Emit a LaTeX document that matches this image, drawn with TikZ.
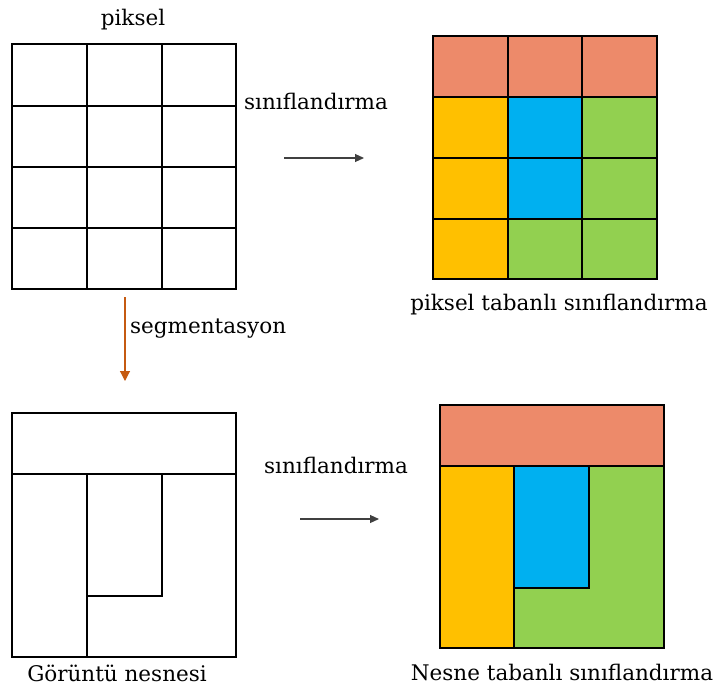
\documentclass[tikz,border=0pt]{standalone}
\usepackage{fontspec}
\setmainfont{DejaVu Serif}
\usetikzlibrary{arrows.meta}
\definecolor{cOrange}{RGB}{237,138,106}
\definecolor{cYellow}{RGB}{255,192,0}
\definecolor{cBlue}{RGB}{0,176,240}
\definecolor{cGreen}{RGB}{146,208,80}
\definecolor{cSeg}{RGB}{197,90,17}
\definecolor{cArr}{RGB}{64,64,64}
\tikzset{
  gridline/.style={line width=2pt, black},
  lbl/.style={font=\fontsize{21.5}{24}\selectfont, inner sep=0pt},
  flow/.style={cArr, line width=1.1pt, -{Triangle[length=9pt,width=8pt]}},
  segflow/.style={cSeg, line width=1.1pt, -{Triangle[length=10pt,width=10pt]}}
}
\begin{document}
\begin{tikzpicture}[x=1pt,y=-1pt]
\useasboundingbox (0,0) rectangle (715,686);
\fill[white] (0,0) rectangle (715,686);
% top-left grid
\draw[gridline] (12,44) rectangle (236,289);
\foreach \xx in {87,162} \draw[gridline] (\xx,44) -- (\xx,289);
\foreach \yy in {106,167,228} \draw[gridline] (12,\yy) -- (236,\yy);
% top-right classified grid
\fill[cOrange] (433,36) rectangle (657,97);
\fill[cYellow] (433,97) rectangle (508,279);
\fill[cBlue] (508,97) rectangle (582,219);
\fill[cGreen] (582,97) rectangle (657,219);
\fill[cGreen] (508,219) rectangle (657,279);
\draw[gridline] (433,36) rectangle (657,279);
\foreach \xx in {508,582} \draw[gridline] (\xx,36) -- (\xx,279);
\foreach \yy in {97,158,219} \draw[gridline] (433,\yy) -- (657,\yy);
% bottom-left segmented image
\draw[gridline] (12,413) rectangle (236,657);
\draw[gridline] (12,474) -- (236,474);
\draw[gridline] (87,474) -- (87,657);
\draw[gridline] (162,474) -- (162,596) -- (87,596);
% bottom-right object-based classification
\fill[cOrange] (440,405) rectangle (664,466);
\fill[cYellow] (440,466) rectangle (514,648);
\fill[cGreen] (514,466) rectangle (664,648);
\fill[cBlue] (514,466) rectangle (589,588);
\draw[gridline] (440,405) rectangle (664,648);
\draw[gridline] (440,466) -- (664,466);
\draw[gridline] (514,466) -- (514,648);
\draw[gridline] (589,466) -- (589,588) -- (514,588);
% labels
\node[lbl] (piksel) at (133,20) {piksel};
\node[lbl] (sinif1) at (316,101) {sınıflandırma};
\node[lbl] (caption1) at (559,305) {piksel tabanlı sınıflandırma};
\node[lbl, anchor=west] (seg) at (130,329) {segmentasyon};
\node[lbl] (sinif2) at (336,465) {sınıflandırma};
\node[lbl] (caption2) at (117,673) {Görüntü nesnesi};
\node[lbl] (caption3) at (562,672) {Nesne tabanlı sınıflandırma};
% arrows
\coordinate (a1s) at (284,158);
\coordinate (a1e) at (364,158);
\coordinate (a2s) at (300,519);
\coordinate (a2e) at (379,519);
\coordinate (sgs) at (125,297);
\coordinate (sge) at (125,381);
\draw[flow] (a1s) -- (a1e);
\draw[flow] (a2s) -- (a2e);
\draw[segflow] (sgs) -- (sge);
\end{tikzpicture}
\end{document}
